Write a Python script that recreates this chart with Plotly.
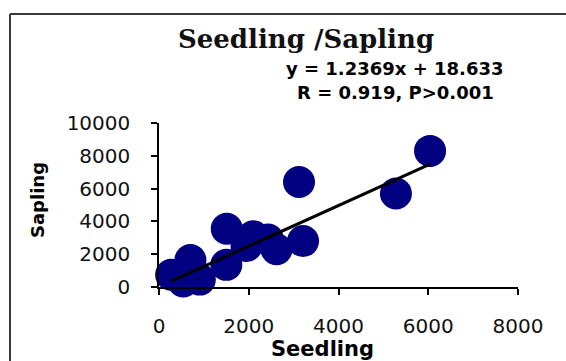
import plotly.graph_objects as go

# Seedling vs sapling densities
seedling = [270, 540, 700, 910, 1500, 1510, 1950, 2100, 2430, 2620, 3120, 3210, 5280, 6040]
sapling = [750, 340, 1650, 450, 1350, 3550, 2500, 3100, 2900, 2300, 6400, 2800, 5700, 8300]

# Linear fit as reported on the chart
slope = 1.2369
intercept = 18.633
fit_label = ["y = 1.2369x + 18.633", "R = 0.919, P>0.001"]

x_ticks = [0, 2000, 4000, 6000, 8000]
y_ticks = [0, 2000, 4000, 6000, 8000, 10000]

# Page geometry (pixels)
W_PAGE, H_PAGE = 566, 361
L, R, T, B = 159, 48, 123, 74
PW, PH = W_PAGE - L - R, H_PAGE - T - B


def px_x(px):
    return (px - L) / PW


def px_y(py):
    return (H_PAGE - B - py) / PH


fit_x = [min(seedling), max(seedling)]
fit_y = [slope * v + intercept for v in fit_x]

fig = go.Figure()
fig.add_trace(go.Scatter(
    x=seedling, y=sapling, mode="markers",
    marker=dict(size=32, color="#000080", line=dict(width=0)),
    cliponaxis=False, showlegend=False, hoverinfo="skip",
))
fig.add_trace(go.Scatter(
    x=fit_x, y=fit_y, mode="lines",
    line=dict(color="black", width=3),
    cliponaxis=False, showlegend=False, hoverinfo="skip",
))

tick_font = dict(family="DejaVu Sans", size=20, color="#111111")
fig.update_xaxes(
    range=[0, 8000], tickvals=x_ticks, ticktext=[str(v) for v in x_ticks],
    showline=True, linecolor="black", linewidth=1.5,
    ticks="outside", ticklen=6, tickwidth=1.5, tickcolor="black",
    showgrid=False, zeroline=False, tickfont=tick_font,
    ticklabelstandoff=14,
)
fig.update_yaxes(
    range=[0, 10000], tickvals=y_ticks, ticktext=[str(v) for v in y_ticks],
    showline=True, linecolor="black", linewidth=1.5,
    ticks="outside", ticklen=6, tickwidth=1.5, tickcolor="black",
    showgrid=False, zeroline=False, tickfont=tick_font,
    ticklabelstandoff=17,
)

annotations = [
    dict(text="<b>Seedling /Sapling</b>", x=px_x(306), y=px_y(39),
         font=dict(family="DejaVu Serif", size=26, color="#111111")),
    dict(text="<b>" + fit_label[0] + "</b>", x=px_x(395), y=px_y(69),
         font=dict(family="DejaVu Sans", size=18, color="black")),
    dict(text="<b>" + fit_label[1] + "</b>", x=px_x(395), y=px_y(92),
         font=dict(family="DejaVu Sans", size=18, color="black")),
    dict(text="<b>Seedling</b>", x=px_x(322), y=px_y(349),
         font=dict(family="DejaVu Sans", size=21, color="black")),
    dict(text="<b>Sapling</b>", x=px_x(37), y=px_y(200), textangle=-90,
         font=dict(family="DejaVu Sans", size=18, color="black")),
]
for a in annotations:
    a.update(xref="paper", yref="paper", xanchor="center", yanchor="middle",
             showarrow=False)

# Chart frame: left and top edges
frame = dict(color="#3a3a3a", width=2)
shapes = [
    dict(type="line", xref="paper", yref="paper",
         x0=px_x(10), x1=px_x(10), y0=px_y(14), y1=px_y(H_PAGE + 5), line=frame),
    dict(type="line", xref="paper", yref="paper",
         x0=px_x(10), x1=px_x(W_PAGE + 5), y0=px_y(14), y1=px_y(14), line=frame),
]

fig.update_layout(
    width=W_PAGE, height=H_PAGE,
    margin=dict(l=L, r=R, t=T, b=B),
    paper_bgcolor="white", plot_bgcolor="white",
    annotations=annotations, shapes=shapes,
    showlegend=False,
)

fig.write_html("out.html")
